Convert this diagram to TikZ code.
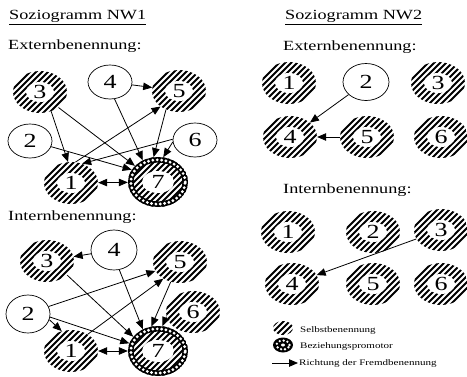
\documentclass[tikz,border=0pt]{standalone}
\usepackage{fontspec}
\setmainfont{Liberation Serif}[FakeStretch=1.3]
\usetikzlibrary{shapes.geometric,arrows.meta}
\newcommand\myhatch[1]{\foreach \i in {-#1,-\numexpr#1-6\relax,...,#1}{\draw[line width=2.1pt] ([shift={(\i-40,40)}]path picture bounding box.center) -- ([shift={(\i+40,-40)}]path picture bounding box.center);}}
\tikzset{
  numfont/.style={font=\fontsize{20}{20}\selectfont},
  ringnode/.style={ellipse, fill=white, minimum width=54pt, minimum height=42pt, inner sep=0pt, numfont,
     path picture={\myhatch{72}
       \fill[white] (path picture bounding box.center) ellipse [x radius=14pt, y radius=10pt];}},
  plainnode/.style={ellipse, draw, line width=0.7pt, fill=white, minimum width=44pt, minimum height=34pt, inner sep=0pt, numfont},
  promnode/.style={ellipse, fill=white, minimum width=60pt, minimum height=50pt, inner sep=0pt, numfont,
     path picture={\myhatch{78}
       \draw[line width=5.5pt] (path picture bounding box.center) ellipse [x radius=27.2pt, y radius=22.2pt];
       \draw[white, line width=3.2pt, line cap=round, dash pattern=on 0pt off 4.4pt] (path picture bounding box.center) ellipse [x radius=27.2pt, y radius=22.2pt];
       \fill[white] (path picture bounding box.center) ellipse [x radius=16pt, y radius=11pt];}},
  lgdring/.style={ellipse, fill=white, minimum width=20pt, minimum height=14pt, inner sep=0pt,
     path picture={\myhatch{36}}},
  lgdprom/.style={ellipse, fill=black, minimum width=20pt, minimum height=15pt, inner sep=0pt,
     path picture={
       \draw[white, line width=2.6pt, line cap=round, dash pattern=on 0pt off 4pt] (path picture bounding box.center) ellipse [x radius=6.5pt, y radius=4.5pt];
       \fill[white] (path picture bounding box.center) ellipse [x radius=2pt, y radius=1.5pt];}},
  arr/.style={line width=0.8pt, -{Triangle[length=9pt,width=7.5pt]}},
  darr/.style={line width=0.8pt, {Triangle[length=9pt,width=7.5pt]}-{Triangle[length=9pt,width=7.5pt]}},
  ttl/.style={anchor=base west, inner sep=0pt, font=\fontsize{14}{16}\selectfont},
  lgd/.style={anchor=west, inner sep=0pt, font=\fontsize{8.5}{10}\selectfont},
}
\begin{document}
\begin{tikzpicture}[x=1pt, y=-1pt]
\useasboundingbox (0,0) rectangle (467,376);
% titles
\node[ttl] (t1) at (9,19.5) {\underline{Soziogramm NW1}};
\node[ttl] (t2) at (8,49.5) {Externbenennung:};
\node[ttl] (t3) at (8,220) {Internbenennung:};
\node[ttl] (t4) at (285,19.5) {\underline{Soziogramm NW2}};
\node[ttl] (t5) at (283,50) {Externbenennung:};
\node[ttl] (t6) at (283,193) {Internbenennung:};

% NW1 Extern
\node[ringnode] (a1) at (71,183) {1};
\node[plainnode] (a2) at (30,141) {2};
\node[ringnode] (a3) at (40,92) {3};
\node[plainnode] (a4) at (110,82) {4};
\node[ringnode] (a5) at (179,91) {5};
\node[plainnode] (a6) at (195,140) {6};
\node[promnode] (a7) at (158,182) {7};
\draw[arr] (a3.-60) -- (a1.98);
\draw[arr] (a3.-40) -- (a7.145);
\draw[arr] (a2.-15) -- (a7.155);
\draw[arr] (a6.178) -- (a1.60);
\draw[arr] (a1.78) -- (a5.220);
\draw[arr] (a4) -- (a5);
\draw[arr] (a4.-75) -- (a7.125);
\draw[arr] (a5.235) -- (a7.100);
\draw[arr] (a6.185) -- (a7.78);
\draw[darr] (a1) -- (a7);

% NW1 Intern
\node[ringnode] (b1) at (71,351) {1};
\node[plainnode, minimum height=38pt] (b2) at (28,314) {2};
\node[ringnode] (b3) at (47,261) {3};
\node[plainnode, minimum width=46pt, minimum height=40pt] (b4) at (114,250) {4};
\node[ringnode] (b5) at (180,262) {5};
\node[ringnode] (b6) at (193,312) {6};
\node[promnode] (b7) at (158,351) {7};
\draw[arr] (b4) -- (b3);
\draw[arr] (b3.-35) -- (b7.150);
\draw[arr] (b4.-75) -- (b7.125);
\draw[arr] (b2.20) -- (b5.200);
\draw[arr] (b1.45) -- (b5.225);
\draw[arr] (b5.245) -- (b7.105);
\draw[arr] (b6.190) -- (b7.80);
\draw[arr] (b2.-15) -- (b1.115);
\draw[arr] (b2.-8) -- (b7.165);
\draw[darr] (b1) -- (b7);

% NW2 Extern
\node[ringnode] (c1) at (289,83) {1};
\node[plainnode, minimum width=46pt, minimum height=37pt] (c2) at (366,82) {2};
\node[ringnode] (c3) at (438,83) {3};
\node[ringnode] (c4) at (290,137) {4};
\node[ringnode] (c5) at (367,137) {5};
\node[ringnode] (c6) at (441,137) {6};
\draw[arr] (c2) -- (c4);
\draw[arr] (c5) -- (c4);

% NW2 Intern
\node[ringnode] (d1) at (288,232) {1};
\node[ringnode] (d2) at (373,232) {2};
\node[ringnode] (d3) at (441,230) {3};
\node[ringnode] (d4) at (292,284) {4};
\node[ringnode] (d5) at (373,284) {5};
\node[ringnode] (d6) at (441,284) {6};
\draw[arr] (d3) -- (d4);

% legend
\node[lgdring] (l1) at (283,328) {};
\node[lgd] (l1t) at (300,330) {Selbstbenennung};
\node[lgdprom] (l2) at (283,345) {};
\node[lgd] (l2t) at (300,346) {Beziehungspromotor};
\coordinate (l3a) at (272,363);
\coordinate (l3b) at (298,363);
\draw[arr] (l3a) -- (l3b);
\node[lgd] (l3t) at (299,363) {Richtung der Fremdbenennung};
\end{tikzpicture}
\end{document}
